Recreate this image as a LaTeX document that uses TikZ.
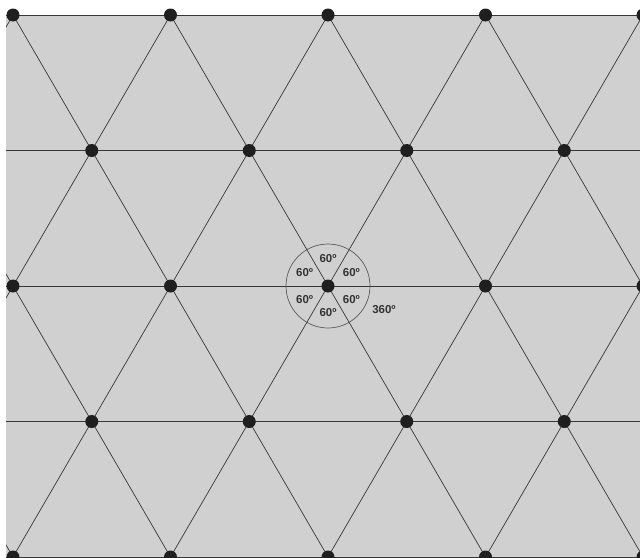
\documentclass[tikz,border=0pt]{standalone}
\usepackage{fontspec}
\setmainfont{Liberation Sans}
\usetikzlibrary{positioning}
\definecolor{tilegray}{RGB}{208,208,208}
\definecolor{edgegray}{RGB}{55,55,55}

\begin{document}
\begin{tikzpicture}[x=1pt, y=-1pt,
    dot/.style={circle, fill=black!88, inner sep=0pt, minimum size=13pt},
    edge/.style={draw=edgegray, line width=0.7pt},
    ring/.style={draw=black!65, line width=0.7pt},
    angle/.style={font=\fontsize{11.5}{13}\selectfont\bfseries, text=black!80, inner sep=1pt}
  ]
  \useasboundingbox (0,0) rectangle (640,557);

  % fond
  \fill[tilegray] (6,15) rectangle (640,557);

  % droites du pavage
  \begin{scope}
    \clip (6,14) rectangle (641,558);
    \foreach \j in {0,...,4}
      \draw[edge] (0,15+135.5*\j) -- (640,15+135.5*\j);
    \foreach \k in {-4,...,5} {
      \draw[edge] (13+157.5*\k-78.75,15-135.5) -- ++(78.75*7,135.5*7);
      \draw[edge] (13+157.5*\k+78.75,15-135.5) -- ++(-78.75*7,135.5*7);
    }
  \end{scope}

  % sommets
  \foreach \j in {0,...,4}
    \foreach \i in {0,...,4} {
      \pgfmathsetmacro{\xo}{13+157.5*\i+78.75*mod(\j,2)}
      \node[dot] (p\i\j) at (\xo,15+135.5*\j) {};
    }

  % angles autour du sommet central
  \draw[ring] (p22.center) circle (42);
  \foreach \a in {30,90,...,330}
    \node[angle] at ([shift={(\a:27)}]p22.center) {60º};
  \node[angle] (total) at ([shift={(56,24)}]p22.center) {360º};

\end{tikzpicture}
\end{document}
